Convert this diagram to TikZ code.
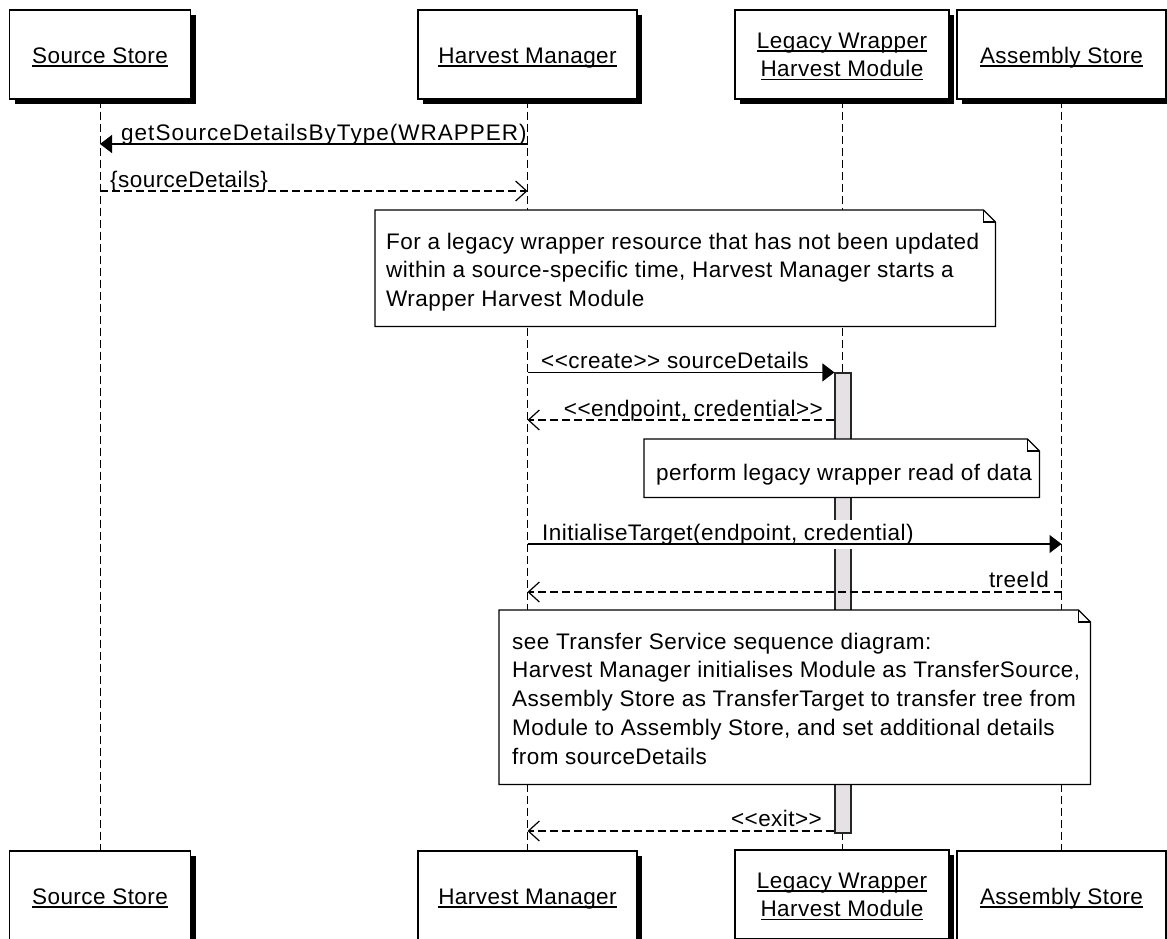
\documentclass[tikz,border=0pt]{standalone}
\usepackage{fontspec}
\setmainfont{Liberation Sans}[Ligatures=TeXOff, LetterSpace=2.0]
\usetikzlibrary{arrows.meta,shadows}

\definecolor{actfill}{RGB}{229,225,229}

% participant name with a heavy underline
\newcommand\ulname[1]{\setbox0=\hbox{#1}\rlap{\rule[-3.5pt]{\wd0}{1.2pt}}\box0}

% UML note outline with folded top-right corner
\newcommand\noteoutline[1]{%
  \draw[noteline] (#1.north west) -- ([xshift=-12pt]#1.north east)
    -- ([yshift=-12pt]#1.north east) -- (#1.south east) -- (#1.south west) -- cycle;
  \draw[noteline] ([xshift=-12pt]#1.north east) -- ([xshift=-12pt,yshift=-12pt]#1.north east)
    -- ([yshift=-12pt]#1.north east);}

\begin{document}
\begin{tikzpicture}[x=1pt,y=-1pt,
  every node/.style={font=\fontsize{22.5pt}{28.75pt}\selectfont},
  part/.style={draw, line width=1.2pt, fill=white, inner sep=0pt,
    text height=20pt, text depth=3pt, minimum height=89pt,
    drop shadow={shadow xshift=5pt, shadow yshift=-5pt, fill=black, opacity=1}},
  lifeline/.style={line width=1pt, dash pattern=on 8pt off 4pt},
  actbar/.style={draw=black!85, line width=1.2pt, fill=actfill, inner sep=0pt, minimum width=16pt},
  msg/.style={line width=1.2pt},
  call/.style={msg, -{Triangle[length=12pt,width=18pt]}},
  reply/.style={msg, dash pattern=on 8pt off 4pt, -{Straight Barb[length=11pt,width=20pt]}},
  lbl/.style={inner sep=0pt},
  note/.style={fill=white, inner sep=0pt, anchor=north west},
  noteline/.style={line width=1.2pt, line join=miter},
  notetext/.style={inner sep=0pt, anchor=base west},
]
\useasboundingbox (0,0) rectangle (1167,938);

% participants, top row
\node[part, minimum width=181pt] (ss) at (100,54.5) {\ulname{Source Store}};
\node[part, minimum width=219pt] (hm) at (527.5,54.5) {\ulname{Harvest Manager}};
\node[part, minimum width=214pt, text depth=33pt] (lw) at (842,54.5)
  {\begin{tabular}[t]{@{}c@{}}\ulname{Legacy Wrapper}\\\ulname{Harvest Module}\end{tabular}};
\node[part, minimum width=209pt] (as) at (1061.5,54.5) {\ulname{Assembly Store}};

% participants, bottom row (running off the lower edge)
\begin{scope}[every node/.append style={minimum height=91pt}]
\node[part, minimum width=181pt] (ssb) at (100,895.5) {\ulname{Source Store}};
\node[part, minimum width=219pt] (hmb) at (527.5,895.5) {\ulname{Harvest Manager}};
\node[part, minimum width=214pt, text depth=33pt] (lwb) at (842,894.5)
  {\begin{tabular}[t]{@{}c@{}}\ulname{Legacy Wrapper}\\\ulname{Harvest Module}\end{tabular}};
\node[part, minimum width=209pt] (asb) at (1061.5,895.5) {\ulname{Assembly Store}};
\end{scope}

% lifelines
\draw[lifeline] (ss.south) -- (ssb.north);
\draw[lifeline] (hm.south) -- (hmb.north);
\draw[lifeline] (lw.south) -- (lwb.north);
\draw[lifeline] (as.south) -- (asb.north);

% activation of the wrapper module
\node[actbar, minimum height=460pt] (act) at (843,603) {};

% message end points
\coordinate (m1a) at (hm.south |- 0,144);
\coordinate (m1b) at (ss.south |- 0,144);
\coordinate (m2a) at (ss.south |- 0,191);
\coordinate (m2b) at (hm.south |- 0,191);
\coordinate (m3a) at (hm.south |- act.north);
\coordinate (m4a) at (act.west |- 0,420);
\coordinate (m4b) at (hm.south |- 0,420);
\coordinate (m5a) at (hm.south |- 0,544);
\coordinate (m5b) at (as.south |- 0,544);
\coordinate (m6a) at (as.south |- 0,592);
\coordinate (m6b) at (hm.south |- 0,592);
\coordinate (m7a) at (act.west |- 0,831);
\coordinate (m7b) at (hm.south |- 0,831);

% message labels
\node[lbl, anchor=base west] (l1) at (121,140) {\addfontfeature{LetterSpace=4.5}getSourceDetailsByType(WRAPPER)};
\node[lbl, anchor=base west] (l2) at (110,187) {\{sourceDetails\}};
\node[lbl, anchor=base west] (l3) at (541,368) {<<create>> sourceDetails};
\node[lbl, anchor=base east] (l4) at (823,416) {<<endpoint, credential>>};
\node[lbl, anchor=base west, fill=white, inner ysep=4pt] (l5) at (542,540) {InitialiseTarget(endpoint, credential)};
\node[lbl, anchor=base east] (l6) at (1049,587) {treeId};
\node[lbl, anchor=base east] (l7) at (822,826) {<<exit>>};

% messages
\draw[call]  (m1a) -- (m1b);
\draw[reply] (m2a) -- (m2b);
\draw[call]  (m3a) -- (act.north west);
\draw[reply] (m4a) -- (m4b);
\draw[call]  (m5a) -- (m5b);
\draw[reply] (m6a) -- (m6b);
\draw[reply] (m7a) -- (m7b);

% notes
\node[note, minimum width=620pt, minimum height=116pt] (n1) at (375,210) {};
\noteoutline{n1}
\node[notetext] (n1t) at (386,249) {\begin{tabular}[t]{@{}l@{}}
  For a legacy wrapper resource that has not been updated\\
  within a source-specific time, Harvest Manager starts a\\
  Wrapper Harvest Module\end{tabular}};

\node[note, minimum width=395pt, minimum height=58pt] (n2) at (644,439) {};
\noteoutline{n2}
\node[notetext] (n2t) at (656,480) {perform legacy wrapper read of data};

\node[note, minimum width=591pt, minimum height=174pt] (n3) at (499,610) {};
\noteoutline{n3}
\node[notetext] (n3t) at (512,649) {\begin{tabular}[t]{@{}l@{}}
  see Transfer Service sequence diagram:\\
  Harvest Manager initialises Module as TransferSource,\\
  Assembly Store as TransferTarget to transfer tree from\\
  Module to Assembly Store, and set additional details\\
  from sourceDetails\end{tabular}};
\end{tikzpicture}
\end{document}
